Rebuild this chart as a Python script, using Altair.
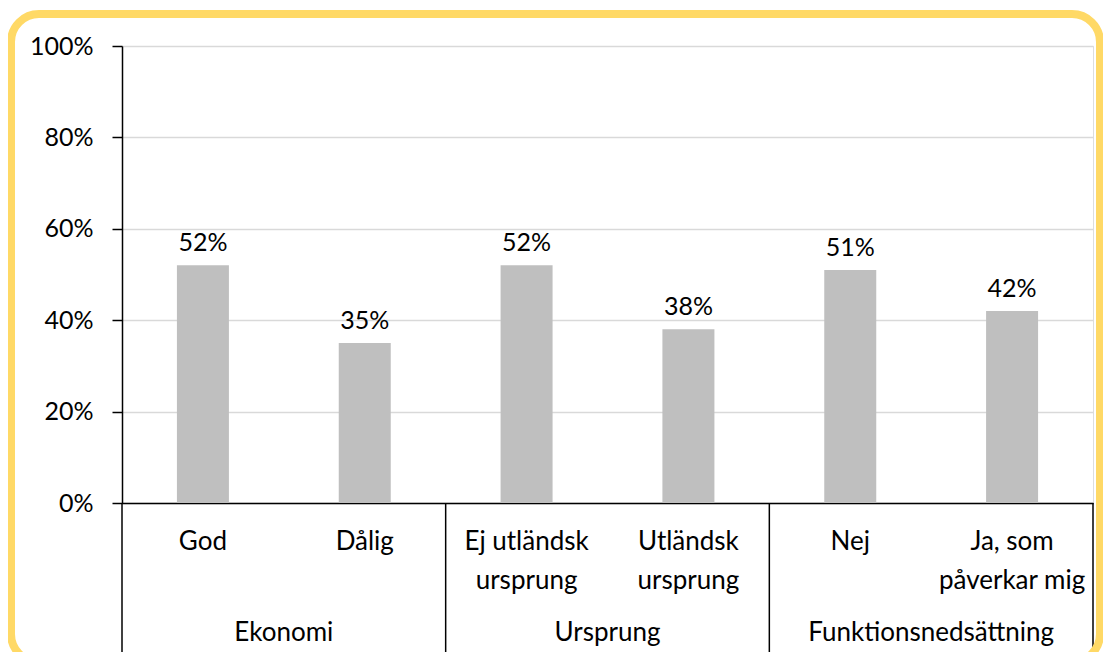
import altair as alt
import pandas as pd

categories = ["God", "Dålig", "Ej utländsk\nursprung", "Utländsk\nursprung", "Nej", "Ja, som\npåverkar mig"]
values = [0.52, 0.35, 0.52, 0.38, 0.51, 0.42]
groups = ["Ekonomi", "Ursprung", "Funktionsnedsättning"]
group_sizes = [2, 2, 2]
y_ticks = [0, 0.2, 0.4, 0.6, 0.8, 1.0]

FONT = "Lato"
W, H = 971, 457

bars = pd.DataFrame({
    "cat": categories,
    "pos": [i + 0.5 for i in range(len(categories))],
    "val": values,
})

starts = [sum(group_sizes[:i]) for i in range(len(groups))]
grp = pd.DataFrame({
    "group": groups,
    "mid": [s + n / 2 for s, n in zip(starts, group_sizes)],
})
seps = pd.DataFrame({"x": starts + [sum(group_sizes)]})

xs = alt.Scale(domain=[0, len(categories)], nice=False, zero=False, padding=0)
ys = alt.Scale(domain=[0, 1], nice=False)

base_bars = alt.Chart(bars).mark_bar(size=52, color="#BFBFBF").encode(
    x=alt.X("pos:Q", scale=xs,
            axis=alt.Axis(title=None, labels=False, ticks=False, grid=False,
                          domainColor="black", domainWidth=1.5)),
    y=alt.Y("val:Q", scale=ys,
            axis=alt.Axis(title=None, values=y_ticks, format=".0%",
                          gridColor="#D9D9D9", gridWidth=1.5,
                          domainColor="black", domainWidth=1.5,
                          tickColor="black", tickSize=10, tickWidth=1.5,
                          labelFont=FONT, labelFontSize=25, labelColor="black",
                          labelPadding=19)),
)

val_labels = alt.Chart(bars).mark_text(
    baseline="bottom", dy=-9, font=FONT, fontSize=25, color="black"
).encode(
    x=alt.X("pos:Q", scale=xs),
    y=alt.Y("val:Q", scale=ys),
    text=alt.Text("val:Q", format=".0%"),
)

cat_labels = alt.Chart(bars).mark_text(
    baseline="middle", font=FONT, fontSize=26, color="black",
    lineBreak="\n", lineHeight=39
).encode(
    x=alt.X("pos:Q", scale=xs),
    y=alt.value(H + 39),
    text="cat:N",
)

grp_labels = alt.Chart(grp).mark_text(
    baseline="middle", font=FONT, fontSize=26, color="black"
).encode(
    x=alt.X("mid:Q", scale=xs),
    y=alt.value(H + 130),
    text="group:N",
)

sep_rules = alt.Chart(seps).mark_rule(color="black", strokeWidth=1.5).encode(
    x=alt.X("x:Q", scale=xs),
    y=alt.value(H),
    y2=alt.value(H + 150),
)

frame = alt.Chart(pd.DataFrame({"k": [0]})).mark_rect(
    fill=None, fillOpacity=0, stroke="#FFD966", strokeWidth=8, cornerRadius=28
).encode(
    x=alt.value(-111), x2=alt.value(978),
    y=alt.value(-32), y2=alt.value(616),
)

chart = alt.layer(
    base_bars, val_labels, cat_labels, grp_labels, sep_rules, frame
).properties(
    width=W, height=H,
    autosize=alt.AutoSizeParams(type="none"),
    padding={"left": 114, "top": 38, "right": 10, "bottom": 149},
).configure_view(stroke=None).configure(background="white")

chart.save("out.html", embed_options={"renderer": "svg", "actions": False})
